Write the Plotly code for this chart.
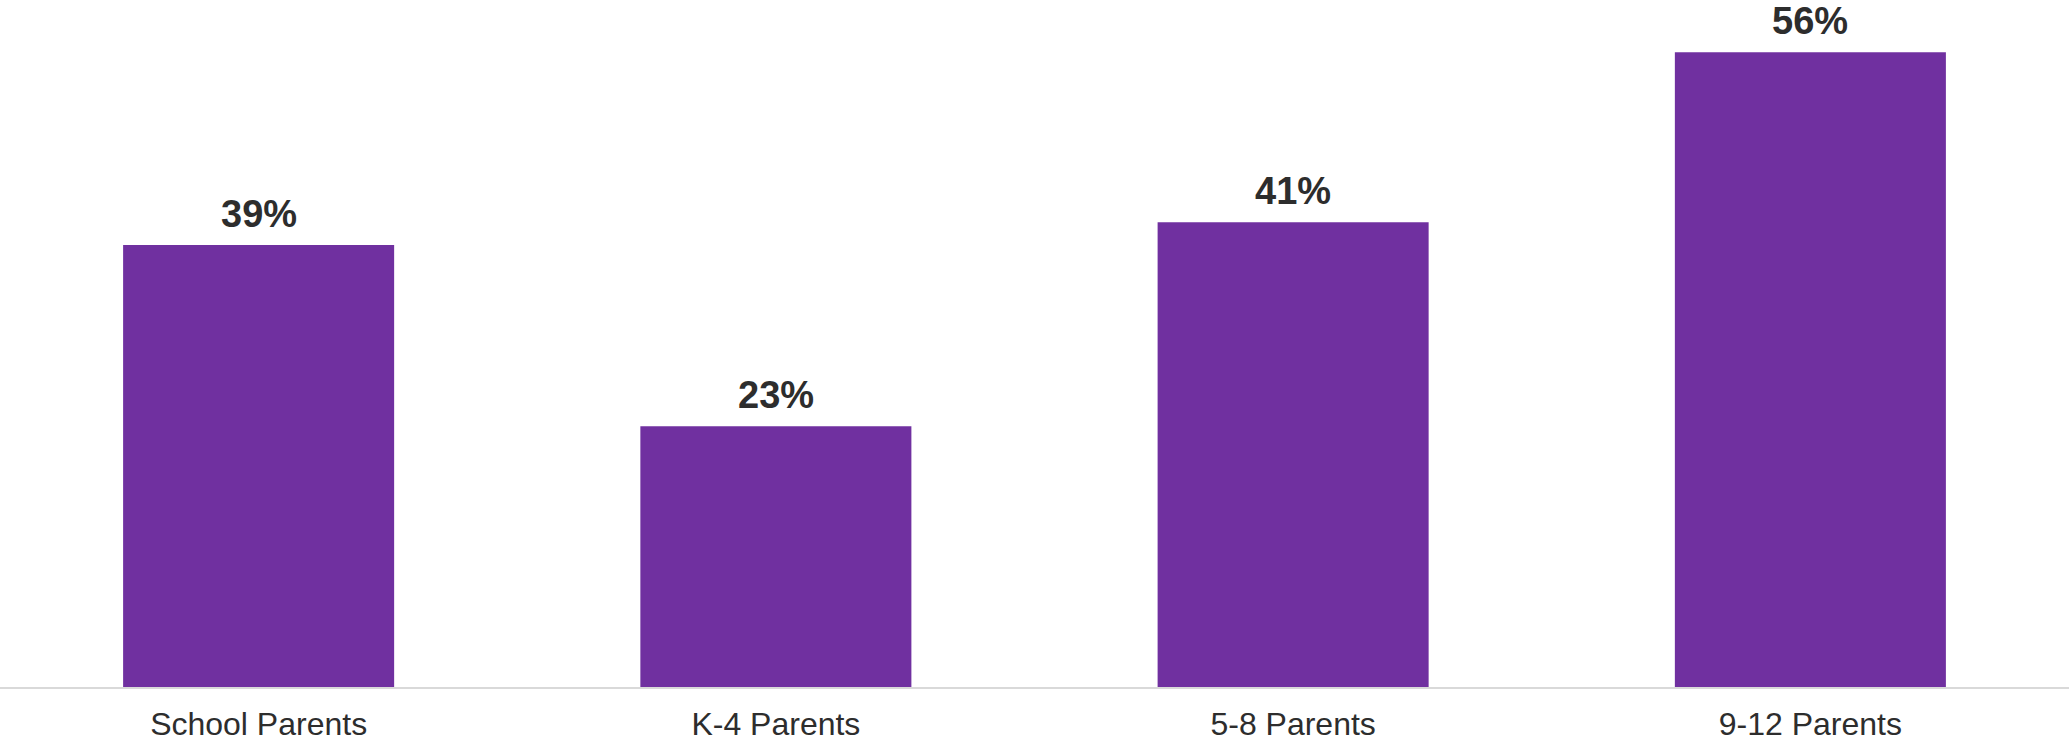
import plotly.graph_objects as go

categories = ["School Parents", "K-4 Parents", "5-8 Parents", "9-12 Parents"]
values = [39, 23, 41, 56]
labels = [f"{v}%" for v in values]

fig = go.Figure()
fig.add_trace(go.Bar(
    x=categories, y=values,
    marker=dict(color="#7030A0", line=dict(width=0)),
    hoverinfo="skip",
))

for c, v, t in zip(categories, values, labels):
    fig.add_annotation(
        x=c, y=v, text=f"<b>{t}</b>", showarrow=False,
        yanchor="bottom", yshift=8,
        font=dict(family="Liberation Sans, Arial", size=38, color="#2d2d2d"),
    )

fig.update_layout(
    width=2069, height=742,
    margin=dict(l=0, r=0, t=7, b=55),
    paper_bgcolor="white", plot_bgcolor="white",
    bargap=0.476,
    showlegend=False,
    xaxis=dict(
        showline=True, linecolor="#d9d9d9", linewidth=2,
        ticks="", showgrid=False, ticklabelstandoff=8,
        tickfont=dict(family="Liberation Sans, Arial", size=32, color="#2d2d2d"),
    ),
    yaxis=dict(range=[0, 60], visible=False, showgrid=False, zeroline=False),
)

fig.write_html(
    "out.html",
    config={"displayModeBar": False, "staticPlot": True},
    post_script="document.body.style.margin='0';document.body.style.overflow='hidden';",
)
